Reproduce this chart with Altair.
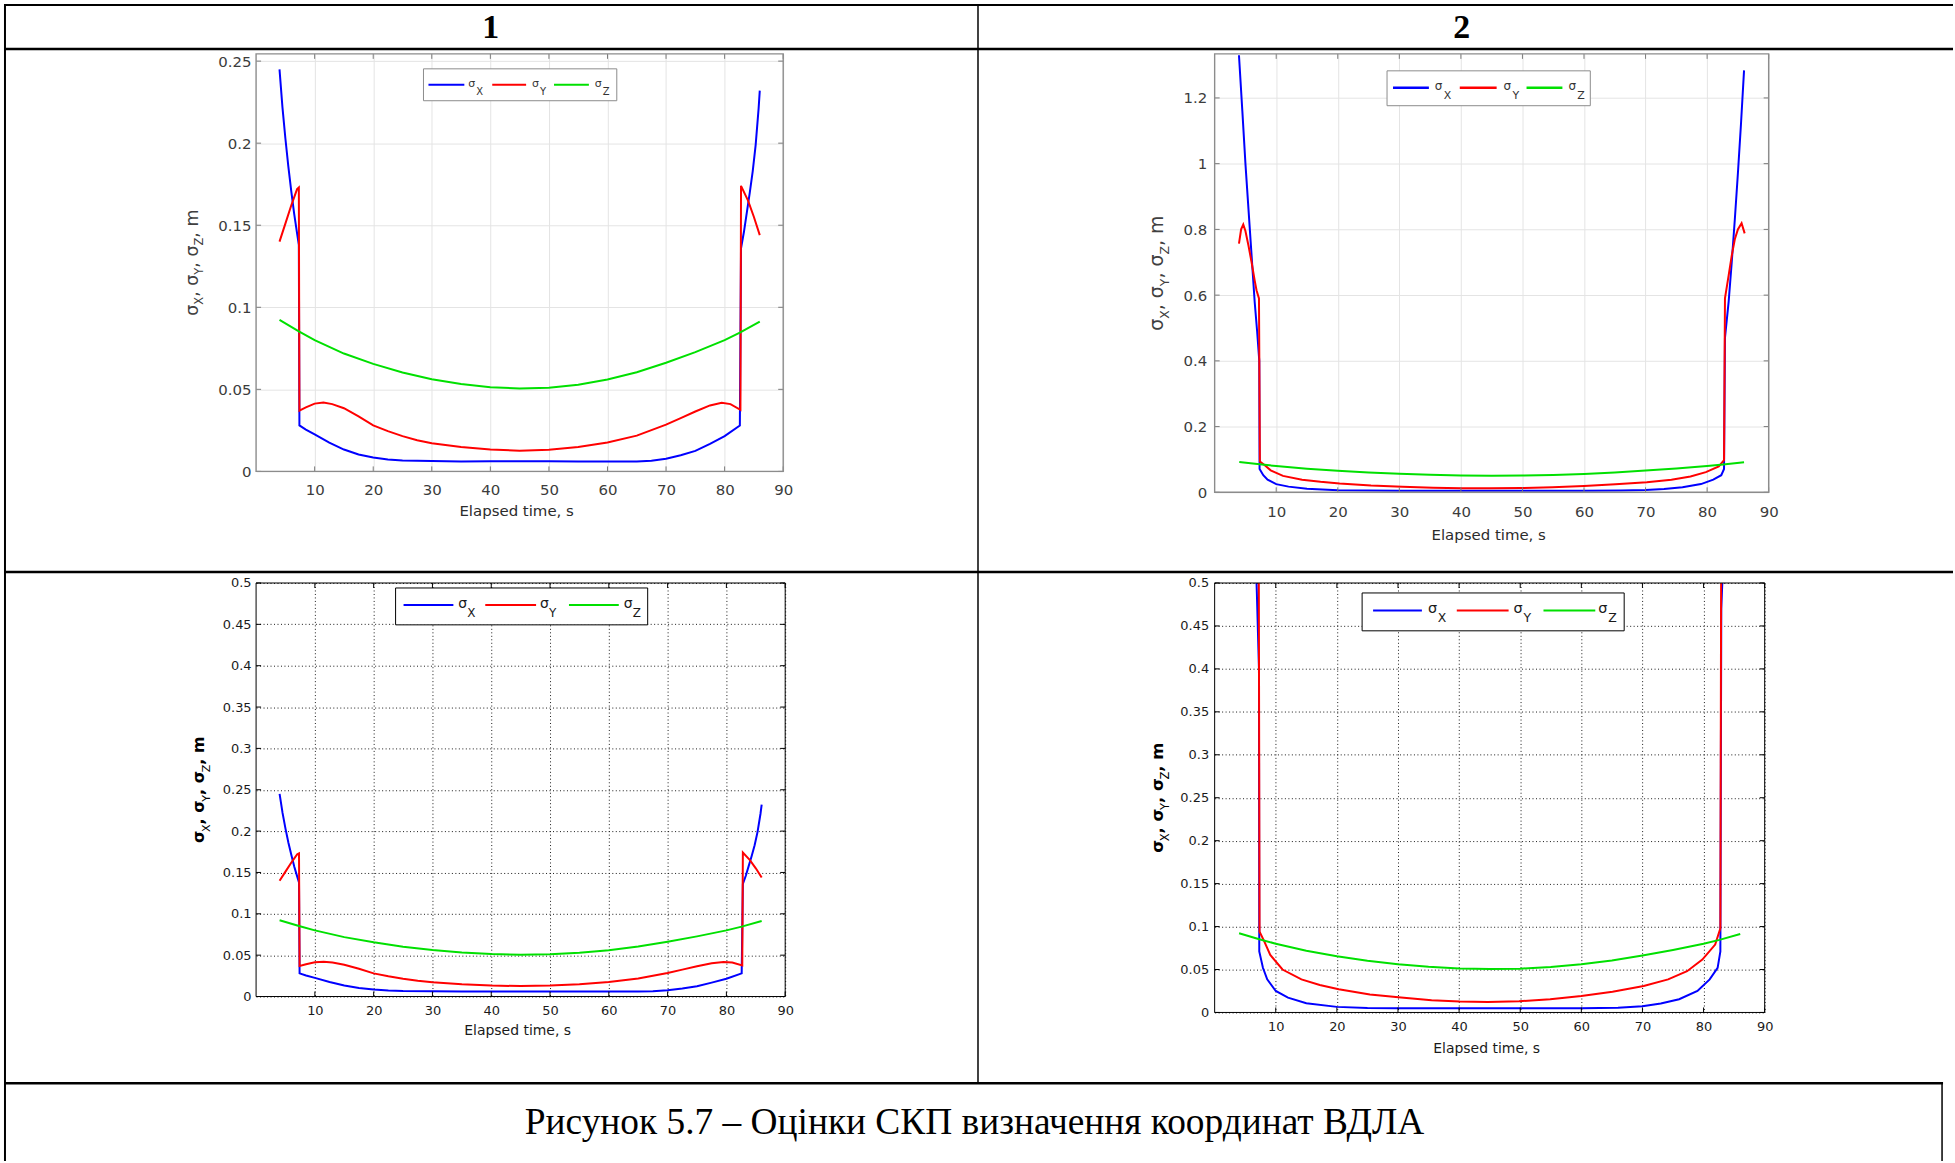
import altair as alt
import pandas as pd

# ---------------------------------------------------------------
# RMS errors (m) of the coordinate estimates vs. elapsed time (s)
# ---------------------------------------------------------------

# Configuration 1 (left column)
T_SX_1 = [4.0, 4.5, 5.0, 5.5, 6.0, 6.5, 7.0, 7.3, 7.4, 8.5, 10, 12.5, 15, 17.5, 20, 22.5, 25,
          30, 35, 40, 45, 50, 55, 60, 65, 67.5, 70, 72.5, 75, 77.5, 80, 82.6,
          82.8, 83.3, 83.8, 84.3, 84.8, 85.3, 85.8, 86.0]
SX_1 = [0.245, 0.222, 0.203, 0.186, 0.171, 0.157, 0.145, 0.138, 0.028, 0.0255, 0.0225, 0.0175, 0.0133,
        0.0103, 0.0085, 0.0073, 0.0067, 0.0063, 0.0061, 0.0062, 0.0062, 0.0062, 0.0061, 0.006, 0.006,
        0.0065, 0.0077, 0.0098, 0.0125, 0.0168, 0.0215, 0.028,
        0.136, 0.146, 0.158, 0.170, 0.183, 0.199, 0.221, 0.232]

T_SY_1 = [4.0, 5.0, 6.0, 6.5, 7.0, 7.3, 7.4, 8.5, 10, 11.5, 13, 15, 17.5, 20, 22.5, 25, 27.5, 30,
          35, 40, 45, 50, 55, 60, 65, 70, 72.5, 75, 77.5, 79.5, 81, 82.7, 82.8, 84, 85, 86]
SY_1 = [0.140, 0.151, 0.162, 0.167, 0.172, 0.173, 0.037, 0.039, 0.0413, 0.042, 0.041, 0.0385, 0.0335,
        0.028, 0.0245, 0.0215, 0.019, 0.0172, 0.0148, 0.0133, 0.0126, 0.0132, 0.0148, 0.0176, 0.0218,
        0.0285, 0.0325, 0.0365, 0.0402, 0.0418, 0.041, 0.0375, 0.174, 0.165, 0.155, 0.144]

# Height error, common to both configurations
T_SZ = [4.0, 7.3, 10, 15, 20, 25, 30, 35, 40, 45, 50, 55, 60, 65, 70, 75, 80, 82.6, 86.0]
SZ = [0.0923, 0.0853, 0.0800, 0.0718, 0.0655, 0.0603, 0.0562, 0.0532, 0.0513, 0.0505, 0.0510,
      0.0528, 0.0560, 0.0604, 0.0662, 0.0727, 0.0800, 0.0845, 0.0913]

# Configuration 2 (right column)
T_SX_2 = [3.95, 4.5, 5.0, 5.5, 6.0, 6.5, 6.9, 7.25, 7.3, 7.9, 8.6, 10, 12, 15, 20, 25, 30,
          40, 50, 60, 66, 70, 73, 76, 79, 81, 82.3, 82.75,
          82.9, 83.5, 84.0, 84.5, 85.0, 85.5, 86.0]
SX_2 = [1.33, 1.16, 1.00, 0.86, 0.72, 0.58, 0.49, 0.40, 0.071, 0.052, 0.0385, 0.025, 0.0173, 0.0108,
        0.0065, 0.0052, 0.005, 0.005, 0.005, 0.005, 0.0055, 0.0073, 0.0104, 0.0154, 0.025, 0.0385,
        0.052, 0.071, 0.47, 0.58, 0.70, 0.83, 0.97, 1.12, 1.284]

T_SY_2 = [3.95, 4.3, 4.65, 5.0, 5.5, 6.0, 6.5, 6.8, 7.2, 7.35, 8.1, 9.1, 11.1, 14.2, 17.2, 20.3,
          25.4, 30.5, 35.5, 40.1, 44.7, 49.8, 54.9, 60, 65.1, 70.2, 74.2, 77.3, 79.8, 81.9, 82.75,
          82.9, 83.5, 84.0, 84.5, 85.0, 85.6, 86.1]
SY_2 = [0.757, 0.80, 0.815, 0.795, 0.75, 0.70, 0.645, 0.615, 0.59, 0.094, 0.083, 0.067, 0.050,
        0.0385, 0.032, 0.027, 0.021, 0.0173, 0.0142, 0.0127, 0.0123, 0.0131, 0.0154, 0.0192, 0.0242,
        0.0308, 0.0385, 0.048, 0.0615, 0.079, 0.098, 0.59, 0.66, 0.72, 0.77, 0.80, 0.819, 0.788]

# Axis ticks
X_TICKS = [10, 20, 30, 40, 50, 60, 70, 80, 90]
Y_TICKS_1 = [0, 0.05, 0.1, 0.15, 0.2, 0.25]
Y_TICKS_2 = [0, 0.2, 0.4, 0.6, 0.8, 1, 1.2]
Y_TICKS_HALF = [0, 0.05, 0.1, 0.15, 0.2, 0.25, 0.3, 0.35, 0.4, 0.45, 0.5]

# Texts
COLUMN_HEADERS = ["1", "2"]
CAPTION = "Рисунок 5.7 – Оцінки СКП визначення координат ВДЛА"
X_TITLE = "Elapsed time, s"
SERIES = ["X", "Y", "Z"]
SERIES_COLORS = ["#0000ff", "#ff0000", "#00e000"]

ONE = pd.DataFrame({"k": [0]})
SANS = "DejaVu Sans"
SERIF = "Liberation Serif"

# approximate advance widths (em) for laying out the rotated y title
ADV = {"σ": 0.634, "X": 0.685, "Y": 0.611, "Z": 0.685, ",": 0.318, " ": 0.318, "m": 0.974}
ADV_BOLD = {"σ": 0.70, ",": 0.38, " ": 0.348, "m": 1.042}


def text_width(s, size, bold=False):
    table = ADV_BOLD if bold else ADV
    return sum(table.get(c, ADV.get(c, 0.6)) for c in s) * size


MODERN = dict(label_size=15, label_color="#3c3c3c", grid_color="#e4e4e4", grid_dash=None,
              frame="#8c8c8c", frame_w=1.4, tick_color="#7a7a7a", line_w=2.0,
              title_size=15, title_color="#2c2c2c", legend_stroke="#8c8c8c", legend_text="#333333")
CLASSIC = dict(label_size=13, label_color="#1a1a1a", grid_color="#1a1a1a", grid_dash=[1, 2.5],
               frame="#000000", frame_w=1.0, tick_color="#000000", line_w=2.0,
               title_size=14, title_color="#1a1a1a", legend_stroke="#000000", legend_text="#1a1a1a")


def txt(text, x, y, **kw):
    return alt.Chart(ONE).mark_text(text=text, **kw).encode(x=alt.value(x), y=alt.value(y))


def hrule(x0, x1, y, color="#000000", width=2.0):
    return alt.Chart(ONE).mark_rule(color=color, strokeWidth=width).encode(
        x=alt.value(x0), x2=alt.value(x1), y=alt.value(y))


def vrule(x, y0, y1, color="#000000", width=2.0):
    return alt.Chart(ONE).mark_rule(color=color, strokeWidth=width).encode(
        x=alt.value(x), y=alt.value(y0), y2=alt.value(y1))


def ytitle_layers(h, bx, big, small, bold, color, shift):
    segs = [("σ", False), ("X", True), (", σ", False), ("Y", True), (", σ", False), ("Z", True), (", m", False)]
    widths = [text_width(s, small if sub else big, bold and not sub) for s, sub in segs]
    y0 = h / 2 + sum(widths) / 2
    out, adv = [], 0.0
    for (s, sub), wd in zip(segs, widths):
        out.append(txt(s, bx, y0, angle=270, align="left", baseline="alphabetic", dx=adv,
                       dy=shift if sub else 0, font=SANS, fontSize=small if sub else big,
                       fontWeight="bold" if (bold and not sub) else "normal", color=color))
        adv += wd
    return out


def legend_layers(style, box, ly, items, sig_size, sub_size, sig_dy, sub_dx, sub_dy, lw):
    x0, y0, x1, y1 = box
    out = [alt.Chart(ONE).mark_rect(fill="white", stroke=style["legend_stroke"], strokeWidth=1).encode(
        x=alt.value(x0), x2=alt.value(x1), y=alt.value(y0), y2=alt.value(y1))]
    for (a, b, sx), name, col in zip(items, SERIES, SERIES_COLORS):
        out.append(hrule(a, b, ly, color=col, width=lw))
        out.append(txt("σ", sx, ly + sig_dy, align="left", baseline="alphabetic", font=SANS,
                       fontSize=sig_size, color=style["legend_text"]))
        out.append(txt(name, sx + sub_dx, ly + sub_dy, align="left", baseline="alphabetic", font=SANS,
                       fontSize=sub_size, color=style["legend_text"]))
    return out


def panel(style, series, w, h, y_max, y_ticks, clip, pad_x, pad_y, xtitle_dy,
          ytitle, legend):
    grid_kw = dict(gridColor=style["grid_color"], gridWidth=1, gridOpacity=1)
    if style["grid_dash"]:
        grid_kw["gridDash"] = style["grid_dash"]
    common = dict(title=None, ticks=False, tickSize=0, domain=False, grid=True,
                  labelFont=SANS, labelFontSize=style["label_size"], labelColor=style["label_color"],
                  labelFlush=False, labelOverlap=False, format="~r", **grid_kw)
    xaxis = alt.Axis(values=X_TICKS, labelPadding=pad_x, **common)
    yaxis = alt.Axis(values=y_ticks, labelPadding=pad_y, **common)
    xs = alt.X("t:Q", scale=alt.Scale(domain=[0, 90], nice=False, zero=False), axis=xaxis)
    ys = alt.Y("v:Q", scale=alt.Scale(domain=[0, y_max], nice=False, zero=False), axis=yaxis)

    layers = []
    for (t, v), col in zip(series, SERIES_COLORS):
        layers.append(alt.Chart(pd.DataFrame({"t": t, "v": v})).mark_line(
            color=col, strokeWidth=style["line_w"], clip=clip).encode(x=xs, y=ys))

    # inward ticks on all four sides of the box
    xt = pd.DataFrame({"t": X_TICKS})
    yt = pd.DataFrame({"v": y_ticks})
    tk = dict(color=style["tick_color"], strokeWidth=1)
    layers += [
        alt.Chart(xt).mark_rule(**tk).encode(x=xs, y=alt.value(h), y2=alt.value(h - 5)),
        alt.Chart(xt).mark_rule(**tk).encode(x=xs, y=alt.value(0), y2=alt.value(5)),
        alt.Chart(yt).mark_rule(**tk).encode(y=ys, x=alt.value(0), x2=alt.value(5)),
        alt.Chart(yt).mark_rule(**tk).encode(y=ys, x=alt.value(w), x2=alt.value(w - 5)),
    ]
    # axes box
    layers.append(alt.Chart(ONE).mark_rect(fill="white", fillOpacity=0, stroke=style["frame"],
                                           strokeWidth=style["frame_w"]).encode(
        x=alt.value(0), x2=alt.value(w), y=alt.value(0), y2=alt.value(h)))
    # x title
    layers.append(txt(X_TITLE, w / 2 - 3, h + xtitle_dy, align="center", baseline="middle",
                      font=SANS, fontSize=style["title_size"], color=style["title_color"]))
    layers += ytitle_layers(h, *ytitle)
    layers += legend_layers(style, *legend)
    return layers


# panel origins on the page: left column x=257, right column x=1219; rows y=52 and y=583
OX, OY = 257, 52
PAGE_W, PAGE_H = 1955, 1163


def page_layers():
    out = [alt.Chart(ONE).mark_rect(opacity=0).encode(
        x=alt.value(-OX), x2=alt.value(PAGE_W - OX), y=alt.value(-OY), y2=alt.value(PAGE_H - OY))]
    L, R = 5 - OX, PAGE_W - OX + 5
    top, head, row, cap = 3 - OY, 47 - OY, 572 - OY, 1085 - OY
    mid = 981.5 - OX
    out += [
        hrule(L, R, top, width=2),
        hrule(L, R, head, width=2.5),
        hrule(L, R, row, width=2.5),
        hrule(L, 1950 - OX, cap, width=2.5),
        vrule(L, top - 1, PAGE_H - OY, width=2),
        vrule(mid, top, cap, width=1.5),
        vrule(1949 - OX, cap, PAGE_H - OY, width=1.5),
    ]
    out.append(txt(COLUMN_HEADERS[0], 492.5 - OX, 26 - OY, align="center", baseline="middle",
                   font=SERIF, fontSize=34, fontWeight="bold", color="#000000"))
    out.append(txt(COLUMN_HEADERS[1], 1467 - OX, 26 - OY, align="center", baseline="middle",
                   font=SERIF, fontSize=34, fontWeight="bold", color="#000000"))
    out.append(txt(CAPTION, 978 - OX, 1125 - OY, align="center", baseline="middle",
                   font=SERIF, fontSize=37.5, color="#000000"))
    return out


p1 = alt.layer(*page_layers(), *panel(
    MODERN, [(T_SX_1, SX_1), (T_SY_1, SY_1), (T_SZ, SZ)], 529, 419, 0.2544, Y_TICKS_1, False,
    11, 5, 39.5,
    (-58.5, 17.5, 11.5, False, "#404040", 5),
    ((168, 15, 362, 47), 31, [(173, 209, 213), (237, 271, 277), (299, 334, 340)], 11, 10, 2, 8, 10, 2),
)).properties(width=529, height=419)

p2 = alt.layer(*panel(
    MODERN, [(T_SX_2, SX_2), (T_SY_2, SY_2), (T_SZ, SZ)], 556, 440, 1.334, Y_TICKS_2, False,
    12, 8, 43,
    (-52, 19, 12.5, False, "#404040", 6),
    ((173, 17, 377, 52), 34, [(179, 215, 221), (246, 283, 290), (313, 349, 355)], 12, 11, 2, 9, 11, 2.3),
)).properties(width=556, height=440)

p3 = alt.layer(*panel(
    CLASSIC, [(T_SX_1, SX_1), (T_SY_1, SY_1), (T_SZ, SZ)], 531, 415, 0.5, Y_TICKS_HALF, False,
    8, 5, 35,
    (-52, 16, 11, True, "#000000", 6),
    ((140, 5, 393, 42), 22, [(148, 198, 203), (230, 281, 285), (314, 364, 369)], 14, 12, 3, 9, 12, 2),
)).properties(width=531, height=415)

p4 = alt.layer(*panel(
    CLASSIC, [(T_SX_2, SX_2), (T_SY_2, SY_2), (T_SZ, SZ)], 552, 431, 0.5, Y_TICKS_HALF, True,
    8, 6, 37,
    (-52, 16.5, 11.5, True, "#000000", 6),
    ((148, 10, 411, 48), 27.5, [(159, 208, 214), (243, 295, 300), (330, 382, 385)], 14.5, 12.5, 3, 10, 12, 2),
)).properties(width=552, height=431)

chart = alt.concat(
    p1, p2, p3, p4, columns=2, spacing={"row": 91, "column": 431}, bounds="flush"
).properties(padding=0, background="white").configure_view(stroke=None)

chart.save("out.html", embed_options={"renderer": "svg", "actions": False})
